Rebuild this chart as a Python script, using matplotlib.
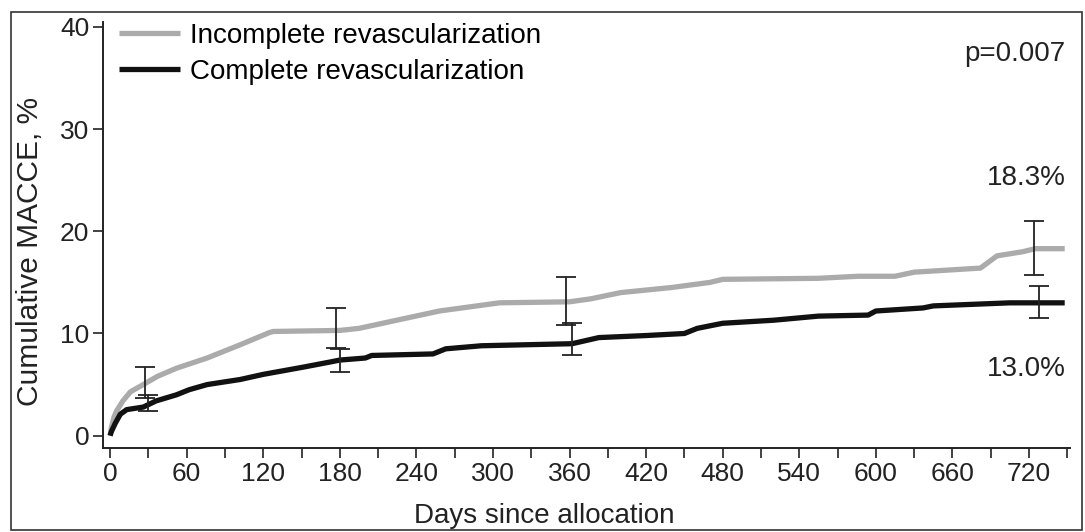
import matplotlib

matplotlib.use("Agg")
import matplotlib.pyplot as plt
from matplotlib.patches import Rectangle
from matplotlib.ticker import MultipleLocator

plt.rcParams["font.family"] = ["Liberation Sans", "DejaVu Sans"]

# Kaplan-Meier style cumulative incidence
days_incomplete = [0, 1, 3, 5, 10, 16, 26, 37, 52, 76, 102, 125, 128, 180, 195,
                   258, 305, 360, 377, 400, 440, 470, 480, 555, 586, 615, 630,
                   682, 695, 715, 725, 748]
macce_incomplete = [0, 0.8, 1.8, 2.4, 3.4, 4.3, 5.0, 5.8, 6.6, 7.6, 8.9, 10.1, 10.2,
                    10.3, 10.5, 12.2, 13.0, 13.1, 13.4, 14.0, 14.5, 15.0, 15.3, 15.4,
                    15.6, 15.6, 16.0, 16.4, 17.6, 18.0, 18.3, 18.3]

days_complete = [0, 1, 4, 8, 13, 26, 36, 52, 62, 76, 102, 120, 151, 172, 180, 200,
                 205, 253, 263, 291, 362, 383, 420, 450, 460, 480, 520, 555, 594,
                 600, 637, 645, 705, 748]
macce_complete = [0, 0.4, 1.2, 2.1, 2.55, 2.8, 3.4, 4.0, 4.5, 5.0, 5.5, 6.0, 6.7,
                  7.2, 7.4, 7.6, 7.85, 8.0, 8.5, 8.8, 9.0, 9.6, 9.8, 10.0, 10.5,
                  11.0, 11.3, 11.7, 11.8, 12.2, 12.5, 12.7, 13.0, 13.0]

# 95% CI bars
ci_days_incomplete = [27, 177, 357, 724]
ci_mid_incomplete = [5.0, 10.3, 13.1, 18.3]
ci_low_incomplete = [3.7, 8.6, 10.8, 15.7]
ci_high_incomplete = [6.7, 12.5, 15.5, 21.0]

ci_days_complete = [30, 180, 362, 728]
ci_mid_complete = [3.0, 7.4, 9.0, 13.0]
ci_low_complete = [2.45, 6.2, 7.9, 11.5]
ci_high_complete = [4.0, 8.5, 11.0, 14.6]

GREY = "#ababab"
BLACK = "#111111"
INK = "#222222"


def main() -> None:
    fig = plt.figure(figsize=(10.85, 5.32), dpi=100)
    ax = fig.add_axes([0.095, 0.158, 0.891, 0.801])

    ax.plot(days_incomplete, macce_incomplete, color=GREY, linewidth=3.8,
            solid_capstyle="butt", label="Incomplete revascularization")
    ax.plot(days_complete, macce_complete, color=BLACK, linewidth=3.8,
            solid_capstyle="butt", label="Complete revascularization")

    for d, m, lo, hi in [(ci_days_incomplete, ci_mid_incomplete, ci_low_incomplete, ci_high_incomplete),
                         (ci_days_complete, ci_mid_complete, ci_low_complete, ci_high_complete)]:
        yerr = [[mi - l for mi, l in zip(m, lo)], [h - mi for mi, h in zip(m, hi)]]
        ax.errorbar(d, m, yerr=yerr, fmt="none", ecolor=INK,
                    elinewidth=1.3, capsize=7, capthick=1.3, zorder=4)

    ax.set_xlim(-5.5, 752)
    ax.set_ylim(-1.2, 40.5)
    ax.xaxis.set_major_locator(MultipleLocator(60))
    ax.xaxis.set_minor_locator(MultipleLocator(30))
    ax.yaxis.set_major_locator(MultipleLocator(10))
    ax.tick_params(axis="both", which="both", direction="out", length=7,
                   width=1.2, labelsize=19, color=INK, labelcolor=INK)
    ax.tick_params(axis="x", pad=3)
    ax.tick_params(axis="y", pad=3)

    for side in ("top", "right"):
        ax.spines[side].set_visible(False)
    for side in ("left", "bottom"):
        ax.spines[side].set_linewidth(1.4)
        ax.spines[side].set_color(INK)

    ax.set_xlabel("Days since allocation", fontsize=20, color=INK)
    ax.xaxis.set_label_coords(0.456, -0.13)
    ax.set_ylabel("Cumulative MACCE, %", fontsize=21.5, color=INK)
    ax.yaxis.set_label_coords(-0.061, 0.462)

    ax.legend(loc="upper left", frameon=False, fontsize=20, handlelength=2.2,
              handletextpad=0.35, labelspacing=0.35, borderaxespad=0.0,
              bbox_to_anchor=(0.005, 1.023))

    ax.text(0.995, 0.925, "p=0.007", transform=ax.transAxes, ha="right",
            va="center", fontsize=20, color=INK)
    ax.text(749, 25.2, "18.3%", ha="right", va="center", fontsize=20, color=INK)
    ax.text(749, 6.5, "13.0%", ha="right", va="center", fontsize=20, color=INK)

    fig.add_artist(Rectangle((0.0105, 0.004), 0.9865, 0.974, transform=fig.transFigure,
                             fill=False, edgecolor="#333333", linewidth=1.2))

    fig.savefig("out.png", dpi=100)


if __name__ == "__main__":
    main()
